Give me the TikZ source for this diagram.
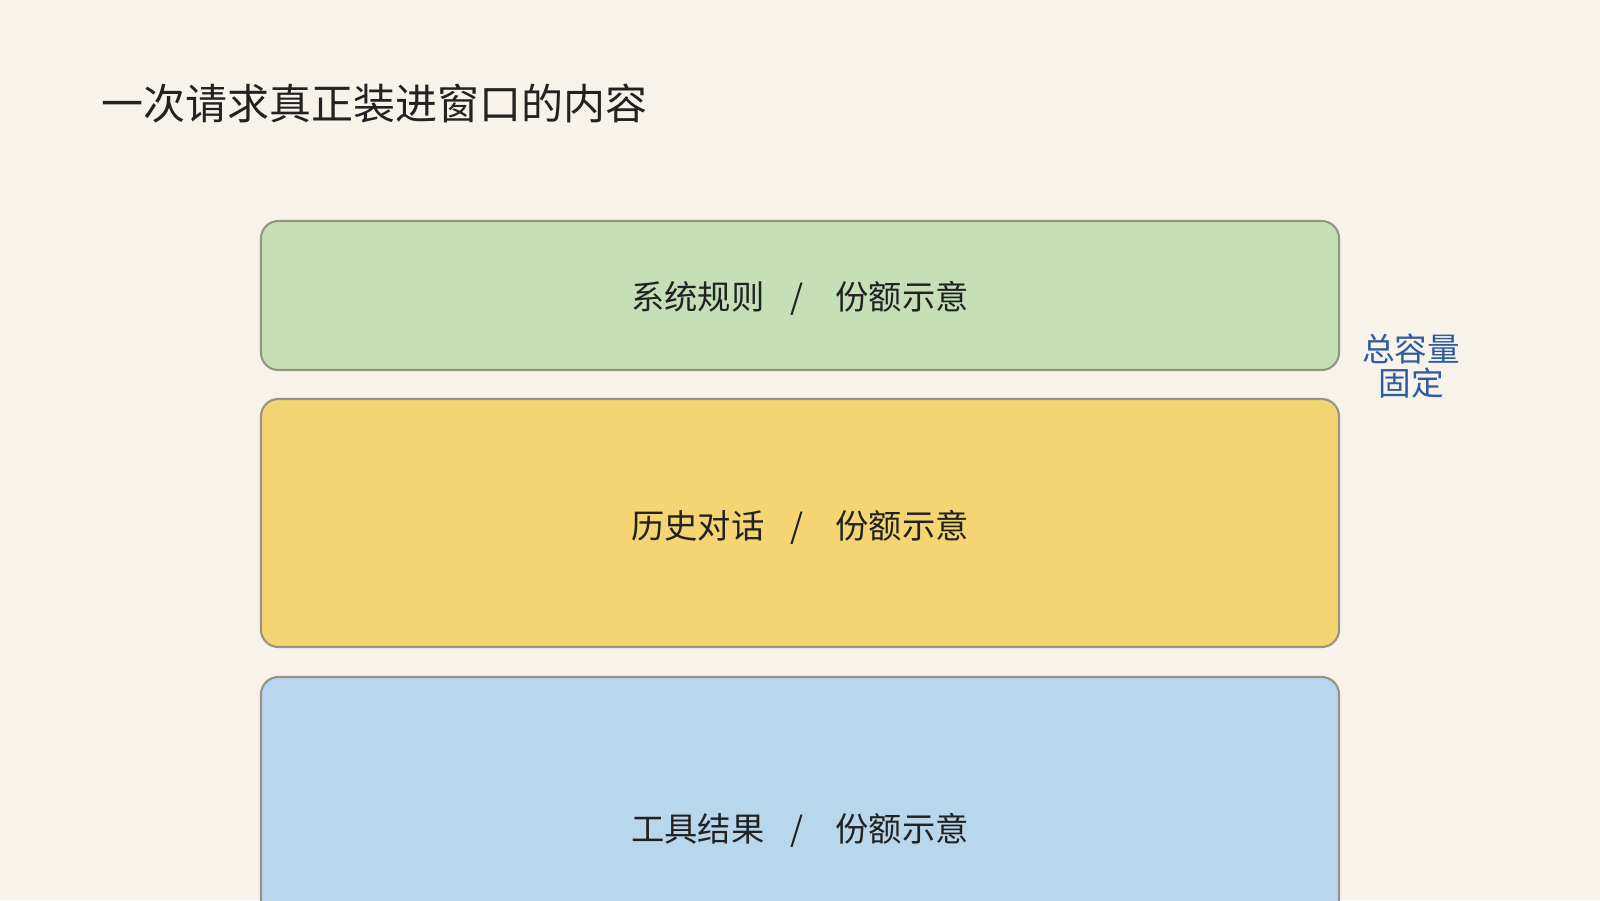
\documentclass[tikz,border=0pt]{standalone}
\usepackage{fontspec}
\setmainfont{Noto Sans CJK SC}
\newfontfamily\cjk{Noto Sans CJK SC}
\definecolor{bg}{HTML}{F7F3EA}
\definecolor{edgegray}{HTML}{9A9383}
\definecolor{greenfill}{HTML}{C5E0B7}
\definecolor{yellowfill}{HTML}{F4D571}
\definecolor{bluefill}{HTML}{B8D7ED}
\definecolor{inkdark}{HTML}{222222}
\definecolor{labelblue}{HTML}{2E5C9E}
\tikzset{
  band/.style={draw=edgegray, line width=1.6pt, rounded corners=13pt, inner sep=0pt},
  bandtext/.style={font=\cjk\fontsize{25pt}{28pt}\selectfont, text=inkdark, inner sep=0pt},
  titletext/.style={font=\cjk\fontsize{31.5pt}{36pt}\selectfont, text=inkdark, anchor=west, inner sep=0pt},
  sidetext/.style={font=\cjk\fontsize{24.5pt}{26pt}\selectfont, text=labelblue, align=center, inner sep=0pt}
}
\newcommand{\sepslash}{\hspace{0.78em}/\hspace{0.95em}}
\begin{document}
\begin{tikzpicture}[x=0.75pt,y=-0.75pt]
  \useasboundingbox (0,0) rectangle (1600,900);
  \fill[bg] (0,0) rectangle (1600,900);
  \begin{scope}
    \clip (0,0) rectangle (1600,900);
    \draw[band, fill=greenfill] (261,221) rectangle (1339,370);
    \draw[band, fill=yellowfill] (261,399) rectangle (1339,647);
    \draw[band, fill=bluefill] (261,677) rectangle (1339,980);
  \end{scope}
  \node[titletext] (title) at (101,103) {一次请求真正装进窗口的内容};
  \node[bandtext] (sys) at (800,298) {系统规则\sepslash 份额示意};
  \node[bandtext] (hist) at (800,527) {历史对话\sepslash 份额示意};
  \node[bandtext] (tool) at (800,830) {工具结果\sepslash 份额示意};
  \node[sidetext] (cap) at (1411,366) {总容量\\[-1pt]固定};
\end{tikzpicture}
\end{document}
